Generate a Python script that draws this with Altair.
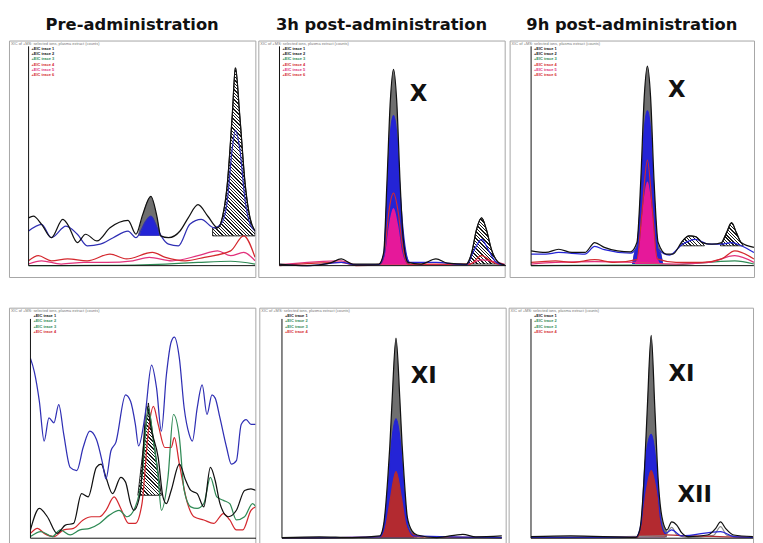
import altair as alt
import pandas as pd

# ---------------- text ----------------
TITLES = ["Pre-administration", "3h post-administration", "9h post-administration"]
HEADER_TEXT = "XIC of +MS: selected ions, plasma extract (counts)"
LEGEND_TOP = ["+EIC trace 1", "+EIC trace 2", "+EIC trace 3", "+EIC trace 4", "+EIC trace 5", "+EIC trace 6"]
LEGEND_BOTTOM = ["+EIC trace 1", "+EIC trace 2", "+EIC trace 3", "+EIC trace 4"]
X_TICKS = [2, 10, 18, 26, 34, 42, 50, 58, 66, 74, 82, 90, 98]
Y_TICKS = [0, 4, 8, 12, 16, 20, 24, 28, 32, 36, 40, 44, 48, 52, 56, 60, 64, 68, 72, 76, 80, 84, 88, 92]

# ---------------- colours ----------------
INK = "#111111"
BLUE_LINE = "#2f2fb4"
BLUE_FILL = "#2424d6"
RED = "#d4282e"
PINK = "#e2327c"
GREEN = "#2f8a55"
GRAY_FILL = "#6f6f6f"
GRAY_LINE = "#8a8a8a"
MAGENTA = "#e6189a"
DARK_RED = "#b32a30"
CLEAR = "rgba(255,255,255,0)"

# ---------------- Pre-administration (top) ----------------
PRE_BLACK = [(0, 20.7), (2.1, 21.4), (5.7, 17.9), (10, 12.1), (15, 20), (17.1, 17.9), (21.4, 10), (25, 13.6),
             (30, 10.7), (35.7, 16.4), (43.6, 19.6), (47.1, 13.6), (50, 22), (53.6, 30), (56.4, 20.7),
             (57.9, 12.9), (61.4, 12.1), (66.4, 15), (70, 20.7), (74.3, 26.4), (78.6, 21.4), (82.9, 16.4),
             (85, 21), (87.1, 35), (89.3, 65), (90.7, 85.7), (92.6, 65), (95, 35), (97.1, 20.7), (99.3, 15)]
PRE_BLUE = [(0, 15), (5.7, 17.9), (10, 12.1), (16.4, 17.1), (21.4, 13.6), (25.7, 8.6), (31.4, 9.3), (37.1, 12.1),
            (43.6, 15), (47.1, 12.1), (51.4, 19.3), (53.6, 21.4), (56.4, 16.4), (58.6, 12.1), (61.4, 9.3),
            (65.7, 8.6), (70.7, 17.9), (75.7, 20), (81.4, 16.4), (85, 19), (87.1, 27.9), (89.3, 50.7),
            (90.7, 58.6), (92.6, 50.7), (95, 27.9), (97.1, 18), (99.3, 15)]
PRE_RED = [(0, 2.1), (4.3, 4.3), (10, 2.1), (17.1, 2.9), (25.7, 2.1), (35.7, 5), (42.9, 2.9), (54.3, 5.7),
           (60, 3.6), (68.6, 2.1), (77.1, 3.6), (88.6, 6.4), (94.3, 12.9), (99.3, 3.6)]
PRE_PINK = [(0, 0.7), (5.7, 2.1), (14.3, 0.7), (24.3, 1.4), (34.3, 1.4), (45.7, 2.1), (52.9, 3.6), (62.9, 2.1),
            (74.3, 4.3), (82.9, 6.4), (88.6, 4.3), (94.3, 5.7), (99.3, 2.1)]
PRE_GREEN = [(0, 0), (31.4, 0.1), (60, 0.7), (74.3, 1.4), (88.6, 1.9), (99.3, 0.7)]
PRE_PEAK_BASE = 12.9
PRE_PEAK_BLACK = [(47.9, 12.9), (50, 22), (53.6, 30), (56.4, 20.7), (57.9, 12.9)]
PRE_PEAK_BLUE = [(48.6, 12.9), (51.4, 19.3), (53.6, 21.4), (56.4, 16.4), (57.5, 12.9)]
PRE_HATCH = [(80.7, 16.4), (82.9, 16.4), (85, 21), (87.1, 35), (89.3, 65), (90.7, 85.7), (92.6, 65), (95, 35),
             (97.1, 20.7), (99.3, 15)]

# ---------------- 3h (top) ----------------
H3_BLACK = [(0, 0.7), (12.1, 0), (22.1, 1.1), (27.1, 2.9), (32.1, 0.7), (43.6, 0.7), (45.7, 5.7), (47.1, 35.7),
            (48.6, 71.4), (50, 85), (51.4, 71.4), (52.9, 35.7), (54.3, 11.4), (56.4, 1.4), (62.1, 0.7),
            (68.6, 2.9), (73.6, 1.1), (82.1, 0.7), (84.3, 5.7), (86.4, 15.7), (88.6, 20.7), (90.7, 15.7),
            (92.9, 7.1), (96.4, 1.1), (99.3, 0.3)]
H3_BLUE = [(0, 0.4), (12.1, 0), (27.1, 1.4), (33.6, 0.3), (43.6, 0.4), (45.7, 4.3), (47.1, 28.6), (48.6, 57.1),
           (50, 65), (51.4, 57.1), (53.1, 28.6), (55, 8.6), (57.1, 1.4), (68.6, 1.4), (82.1, 0.4), (85, 6),
           (88.6, 11.4), (92, 6), (95, 1.5), (99.3, 0)]
H3_RED = [(0, 0), (27.1, 1.4), (33.6, 0), (44.3, 0.7), (46.4, 8.6), (47.9, 22.9), (50, 31.4), (52.1, 22.9),
          (53.9, 8.6), (56.4, 0.7), (68.6, 0.7), (83.6, 0.7), (88.6, 4.3), (93.6, 1.4), (99.3, 0)]
H3_PINK = [(0, 0.4), (27.1, 2.1), (33.6, 0.4), (82.1, 0.4), (88.6, 2.5), (99.3, 0.4)]
H3_FILL_BASE = 0.3
H3_MAGENTA = [(44.3, 0.3), (46.4, 5.7), (47.9, 17.1), (50, 25), (52.1, 17.1), (53.9, 5.7), (56.4, 0.3)]
H3_HATCH_BASE = 0.7
H3_HATCH = [(82.1, 0.7), (84.3, 5.7), (86.4, 15.7), (88.6, 20.7), (90.7, 15.7), (92.9, 7.1), (96.4, 1.1)]
H3_LABELS = [("X", 61, 71.4)]

# ---------------- 9h (top) ----------------
H9_BLACK = [(0, 6.4), (6.4, 5.7), (12.1, 7.1), (17.9, 5.7), (23.6, 5.7), (27.9, 10), (32.1, 7.9), (37.9, 6.4),
            (43.6, 6), (46.4, 10), (48.1, 37.1), (49.6, 72.9), (51, 86.4), (52.4, 72.9), (53.9, 37.1),
            (55.7, 10), (59.3, 5), (62.1, 5), (66.4, 10.7), (69.3, 12.9), (72.1, 12.6), (75, 10), (79.3, 9.3),
            (83.6, 10), (85.7, 14.3), (87.9, 18.6), (90, 14.3), (92.1, 10), (97.7, 7.9)]
H9_BLUE = [(0, 5), (6.4, 5), (12.1, 5.7), (23.6, 5), (27.9, 8.3), (32.1, 6.9), (43.6, 5.4), (46.4, 7.9),
           (48.1, 30), (49.6, 58.6), (51, 67.1), (52.4, 58.6), (53.9, 30), (55.7, 7.1), (60.7, 4.6), (66.4, 9.3),
           (72.1, 11.4), (77.9, 9.3), (83.6, 9.3), (87.9, 10), (92.1, 8.6), (97.7, 5.7)]
H9_RED = [(0, 1.4), (10.7, 2.1), (17.9, 1.4), (27.9, 2.6), (36.4, 1.4), (46.4, 2.6), (48.6, 22.9), (51, 45.7),
          (53.3, 22.9), (55.3, 2.9), (63.6, 1.4), (75, 1.4), (83.6, 2.9), (89.3, 6.4), (97.7, 2.9)]
H9_PINK = [(0, 0.7), (10.7, 1.4), (27.9, 1.7), (46.4, 1.4), (63.6, 0.7), (77.9, 1.4), (89.3, 4.3), (97.7, 1.4)]
H9_GREEN = [(0, 0), (60.7, 0.3), (89.3, 2.1), (97.7, 0.7)]
H9_FILL_BASE = 0.7
H9_FILL_BLACK = [(44.3, 0.7), (45.2, 6), (46.4, 10), (48.1, 37.1), (49.6, 72.9), (51, 86.4), (52.4, 72.9),
                 (53.9, 37.1), (55.7, 10), (57, 6), (57.9, 0.7)]
H9_FILL_BLUE = [(44.3, 0.7), (45.2, 5.5), (46.4, 7.9), (48.1, 30), (49.6, 58.6), (51, 67.1), (52.4, 58.6),
                (53.9, 30), (55.7, 7.1), (57, 5), (57.9, 0.7)]
H9_FILL_MAGENTA = [(45.4, 0.7), (47.4, 8), (48.9, 24), (51, 36.5), (53.1, 24), (54.6, 8), (56.6, 0.7)]
H9_HATCH_BASE = 8.6
H9_HATCH_A = [(65.5, 8.6), (66.4, 10.7), (69.3, 12.9), (72.1, 12.6), (75, 10), (76, 8.6)]
H9_HATCH_B = [(83, 8.6), (83.6, 10), (85.7, 14.3), (87.9, 18.6), (90, 14.3), (92.1, 10), (93, 8.6)]
H9_LABELS = [("X", 63.9, 72.9)]

# ---------------- Pre-administration (bottom) ----------------
PRE2_BLUE = [(0, 77.9), (1.7, 72.1), (3.9, 59.3), (6, 42.1), (8.1, 52.1), (10.3, 50), (12.4, 57.9), (14.6, 45),
             (17.4, 30.7), (20.3, 29.3), (23.1, 39.3), (26, 46.4), (28.9, 42.9), (31.7, 32.1), (33.1, 25.7),
             (35.3, 37.9), (37.4, 41.4), (41.7, 62.1), (43.9, 59.3), (46, 49.3), (47.4, 40), (50.3, 53.6),
             (53.1, 75), (55.3, 65), (57.4, 46.4), (59.6, 70.7), (61.7, 85), (63.1, 87.1), (65.3, 77.9),
             (67.4, 56.4), (69.6, 45), (71, 42.1), (73.1, 56.4), (75.3, 66.4), (77.4, 53.6), (79.6, 62.1),
             (81, 60.7), (83.1, 52.1), (86, 39.3), (88.1, 32.1), (90.3, 33.6), (92.4, 49.3), (94.6, 51.4),
             (96.7, 49.3), (98.9, 49.3)]
PRE2_BLACK = [(0, 3.6), (3.9, 12.9), (7.4, 9.3), (11.7, 2.1), (15.3, 5.7), (18.9, 6.4), (22.4, 19.3), (25.3, 17.9),
              (28.9, 30.7), (31, 32.1), (33.1, 26.4), (36, 19.3), (39.6, 26.4), (41.7, 24.3), (43.9, 15),
              (45.3, 12.1), (48.1, 19.3), (51, 57.1), (53.1, 46.4), (56, 35), (58.1, 17.9), (59.6, 15),
              (61.7, 20.7), (65.3, 32.1), (68.1, 25), (70.3, 20.7), (73.1, 19.3), (76, 13.6), (78.9, 30.7),
              (81, 25), (83.1, 15), (86.7, 9.3), (90.3, 12.1), (93.9, 20.7), (96.7, 21.4), (98.9, 20.7)]
PRE2_GREEN = [(0, 0.7), (4.6, 2.9), (9.6, 0.7), (13.1, 3.6), (17.4, 1.4), (21.7, 3.6), (26, 4.3), (30.3, 6.4),
              (34.6, 10), (38.9, 12.1), (42.4, 9.3), (46, 13.6), (48.9, 26.4), (51.7, 56.4), (53.9, 42.1),
              (56, 26.4), (57.4, 12.1), (60.3, 26.4), (62.7, 53.6), (65.3, 43.6), (67.4, 20.7), (70.3, 13.6),
              (73.1, 12.9), (76, 15), (78.9, 26.4), (81.7, 17.9), (84.6, 16.4), (87.4, 15), (90.3, 7.9),
              (93.9, 9.3), (97.4, 15), (98.9, 13.6)]
PRE2_RED = [(0, 2.1), (3.1, 4.3), (6, 2.1), (10.3, 0.7), (14.6, 3.6), (18.9, 4.3), (23.1, 7.9), (26.7, 9.3),
            (30.3, 9.3), (33.1, 12.1), (36.7, 17.9), (39.6, 12.9), (43.1, 6.4), (46, 6.4), (48.9, 15),
            (51.7, 46.4), (53.9, 57.1), (56, 49.3), (58.9, 39.3), (61.7, 39.3), (63.1, 43.6), (65.3, 32.1),
            (68.9, 15), (71.7, 9.3), (76, 7.9), (80.3, 6.4), (84.6, 10.7), (87.4, 7.9), (90.3, 3.6), (93.1, 3.6),
            (96.7, 12.1), (98.9, 13.6)]
PRE2_HATCH_BASE = 18.6
PRE2_HATCH = [(47.1, 18.6), (51.7, 58.6), (57.4, 18.6)]

# ---------------- 3h (bottom) ----------------
H3B_BLACK = [(0, 0.3), (16.4, 0.6), (30.7, 0.3), (42.9, 1), (44.6, 6), (46.4, 26), (47.3, 40), (48.3, 60),
             (50, 86.7), (51.7, 60), (52.7, 40), (53.6, 26), (55, 8.9), (57.1, 3.1), (59.3, 1.4), (67.9, 0.3),
             (79.3, 1.7), (85, 0.6), (96.4, 1)]
H3B_BLUE = [(0, 0.1), (42.9, 0.6), (44.6, 4.6), (46.4, 20.3), (48.1, 41.7), (50, 51.7), (51.9, 41.7),
            (53.6, 20.3), (55.4, 4.6), (57.9, 1), (96.4, 0.3)]
H3B_RED = [(0, 0.1), (43.6, 0.6), (45.7, 6), (47.6, 17.4), (50, 28.9), (52.4, 17.4), (54.3, 6), (56.4, 2.4),
           (62.1, 0.6), (96.4, 0.3)]
H3B_FILL_BASE = 0.3
H3B_LABELS = [("XI", 62.2, 67.4)]

# ---------------- 9h (bottom) ----------------
H9B_BLACK = [(0, 0.7), (17.4, 1), (46, 0.4), (47.7, 3.6), (49.6, 26.4), (51, 56.4), (52.7, 87.9), (54.3, 56.4),
             (55.7, 26.4), (57.4, 9.3), (59.6, 3.6), (61.7, 7.1), (63.9, 5.7), (66, 2.4), (68.9, 0.7),
             (77.4, 1.4), (81, 4.3), (83.1, 7.1), (85.3, 4.3), (88.9, 1.4), (97.3, 0.7)]
H9B_GRAY = [(0, 0.4), (58.6, 1), (61.7, 4.7), (64, 1.5), (68.9, 0.4), (80, 1.2), (83.1, 5), (86, 1.2), (97.3, 0.4)]
H9B_BLUE = [(0, 0.4), (46, 0.4), (48.3, 6.4), (50, 32.1), (52.7, 45), (54.9, 32.1), (56.7, 9.3), (58.9, 2.1),
            (61.7, 3.6), (66, 1), (83.1, 2.9), (88.9, 0.7), (97.3, 0.4)]
H9B_RED = [(0, 0.3), (46.7, 0.4), (48.6, 6.4), (50.6, 20.7), (52.7, 29.3), (54.9, 20.7), (56.9, 6.4),
           (58.9, 1.4), (97.4, 0.4)]
H9B_FILL_BASE = 0.4
H9B_LABELS = [("XI", 66, 67.9), ("XII", 71.8, 15.6)]


def between(points, lo, hi):
    return [p for p in points if lo <= p[0] <= hi]


PANELS = {
    "pre_top": dict(
        hatches=[(PRE_HATCH, PRE_PEAK_BASE, "monotone")],
        fills=[(PRE_PEAK_BLACK, PRE_PEAK_BASE, GRAY_FILL), (PRE_PEAK_BLUE, PRE_PEAK_BASE, BLUE_FILL)],
        lines=[(PRE_GREEN, GREEN), (PRE_PINK, PINK), (PRE_RED, RED), (PRE_BLUE, BLUE_LINE), (PRE_BLACK, INK)],
        labels=[], legend=list(zip(LEGEND_TOP, [INK, INK, GREEN, RED, PINK, RED]))),
    "h3_top": dict(
        hatches=[(H3_HATCH, H3_HATCH_BASE, "monotone")],
        fills=[(between(H3_BLACK, 43.6, 56.4), H3_FILL_BASE, GRAY_FILL),
               (between(H3_BLUE, 43.6, 57.1), H3_FILL_BASE, BLUE_FILL),
               (H3_MAGENTA, H3_FILL_BASE, MAGENTA)],
        lines=[(H3_PINK, PINK), (H3_RED, RED), (H3_BLUE, BLUE_FILL), (H3_BLACK, INK)],
        labels=H3_LABELS, legend=list(zip(LEGEND_TOP, [INK, INK, GREEN, RED, PINK, RED]))),
    "h9_top": dict(
        hatches=[(H9_HATCH_A, H9_HATCH_BASE, "monotone"), (H9_HATCH_B, H9_HATCH_BASE, "monotone")],
        fills=[(H9_FILL_BLACK, H9_FILL_BASE, GRAY_FILL), (H9_FILL_BLUE, H9_FILL_BASE, BLUE_FILL),
               (H9_FILL_MAGENTA, H9_FILL_BASE, MAGENTA)],
        lines=[(H9_GREEN, GREEN), (H9_PINK, PINK), (H9_RED, RED), (H9_BLUE, BLUE_FILL), (H9_BLACK, INK)],
        labels=H9_LABELS, legend=list(zip(LEGEND_TOP, [INK, INK, GREEN, RED, PINK, RED]))),
    "pre_bottom": dict(
        hatches=[(PRE2_HATCH, PRE2_HATCH_BASE, "linear")],
        fills=[],
        lines=[(PRE2_RED, RED), (PRE2_GREEN, GREEN), (PRE2_BLACK, INK), (PRE2_BLUE, BLUE_LINE)],
        labels=[], legend=list(zip(LEGEND_BOTTOM, [INK, GREEN, GREEN, RED]))),
    "h3_bottom": dict(
        hatches=[],
        fills=[(between(H3B_BLACK, 42.9, 59.3), H3B_FILL_BASE, GRAY_FILL),
               (between(H3B_BLUE, 42.9, 57.9), H3B_FILL_BASE, BLUE_FILL),
               (between(H3B_RED, 43.6, 62.1), H3B_FILL_BASE, DARK_RED)],
        lines=[(H3B_RED, DARK_RED), (H3B_BLUE, BLUE_FILL), (H3B_BLACK, INK)],
        labels=H3B_LABELS, legend=list(zip(LEGEND_BOTTOM, [INK, GREEN, GREEN, RED]))),
    "h9_bottom": dict(
        hatches=[],
        fills=[(between(H9B_BLACK, 46, 59.6), H9B_FILL_BASE, GRAY_FILL),
               (between(H9B_BLUE, 46, 58.9), H9B_FILL_BASE, BLUE_FILL),
               (between(H9B_RED, 46.7, 58.9), H9B_FILL_BASE, DARK_RED)],
        lines=[(H9B_GRAY, GRAY_LINE), (H9B_RED, DARK_RED), (H9B_BLUE, BLUE_FILL), (H9B_BLACK, INK)],
        labels=H9B_LABELS, legend=list(zip(LEGEND_BOTTOM, [INK, GREEN, GREEN, RED]))),
}

PX_X = 2.305  # horizontal pixels per data unit
PX_Y = 2.333  # vertical pixels per data unit


def frame(points, base=None):
    df = pd.DataFrame(points, columns=["x", "y"])
    if base is not None:
        df["b"] = base
    return df


def hatch_fill(points, base, spacing=3.4):
    xs = [p[0] for p in points]
    ys = [p[1] for p in points]
    w = max((max(xs) - min(xs)) * PX_X, 1.0)
    h = max((max(ys) - base) * PX_Y, 1.0)
    r = w / h
    s = (1 + r) / (1 + r * r)
    n = max(3, int(round(h * (1 + r) / spacing)))
    stops = []
    for k in range(n):
        o = k / n
        m = (k + 0.6) / n
        e = min((k + 1) / n, 1.0)
        stops += [alt.GradientStop(color=CLEAR, offset=o), alt.GradientStop(color=CLEAR, offset=m),
                  alt.GradientStop(color="#1a1a1a", offset=m), alt.GradientStop(color="#1a1a1a", offset=e)]
    return alt.LinearGradient(gradient="linear", stops=stops, x1=1, y1=0, x2=1 - s * r, y2=s)


def build(spec, W, H, axis_px, base_px, title=None):
    xs = alt.Scale(domain=[-axis_px / PX_X, (W - axis_px) / PX_X], nice=False, zero=False)
    ys = alt.Scale(domain=[-(H - base_px) / PX_Y, base_px / PX_Y], nice=False, zero=False)
    X = alt.X("x:Q", scale=xs, axis=None)
    Y = alt.Y("y:Q", scale=ys, axis=None)
    layers = []
    for pts, base, interp in spec["hatches"]:
        layers.append(alt.Chart(frame(pts, base)).mark_area(
            interpolate=interp, fill=hatch_fill(pts, base), stroke=INK, strokeWidth=0.9, clip=True
        ).encode(x=X, y=Y, y2=alt.Y2("b")))
    for pts, base, color in spec["fills"]:
        layers.append(alt.Chart(frame(pts, base)).mark_area(
            interpolate="monotone", color=color, opacity=1, clip=True
        ).encode(x=X, y=Y, y2=alt.Y2("b")))
    for pts, color in spec["lines"]:
        layers.append(alt.Chart(frame(pts)).mark_line(
            interpolate="monotone", color=color, strokeWidth=1.25, clip=True
        ).encode(x=X, y=Y))
    x_end = max(p[0] for pts, _ in spec["lines"] for p in pts)
    axis_x = pd.DataFrame({"x": [0], "x2": [x_end], "y": [0]})
    layers.append(alt.Chart(axis_x).mark_rule(color=INK, strokeWidth=1).encode(
        x=alt.X("x:Q", scale=xs, axis=alt.Axis(
            orient="bottom", offset=base_px - H, values=X_TICKS, domain=False, grid=False, tickSize=2.5,
            tickColor=INK, labelFontSize=3.6, labelPadding=1, labelColor="#333", title=None, labelOverlap=False)),
        x2="x2:Q",
        y=alt.Y("y:Q", scale=ys, axis=alt.Axis(
            orient="left", offset=-axis_px, values=Y_TICKS, domain=False, grid=False, tickSize=2,
            tickColor=INK, labelFontSize=3.3, labelPadding=1, labelColor="#333", title=None, labelOverlap=False,
            labelExpr="format(datum.value / 48, '.2f')")),
    ))
    axis_y = pd.DataFrame({"x": [0], "y": [0], "y2": [Y_TICKS[-1] + 3]})
    layers.append(alt.Chart(axis_y).mark_rule(color=INK, strokeWidth=1).encode(
        x=alt.X("x:Q", scale=xs, axis=None), y=alt.Y("y:Q", scale=ys, axis=None), y2="y2:Q"))
    if spec["labels"]:
        layers.append(alt.Chart(pd.DataFrame(spec["labels"], columns=["t", "x", "y"])).mark_text(
            font="DejaVu Sans", fontSize=23, fontWeight="bold", align="center", baseline="alphabetic", color=INK
        ).encode(x=X, y=Y, text="t:N"))
    one = pd.DataFrame({"a": [0]})
    layers.append(alt.Chart(one).mark_text(
        font="Liberation Sans", fontSize=4, align="left", baseline="top", color="#777"
    ).encode(x=alt.value(2), y=alt.value(1.5), text=alt.value(HEADER_TEXT)))
    for i, (t, c) in enumerate(spec["legend"]):
        layers.append(alt.Chart(one).mark_text(
            font="Liberation Sans", fontSize=4, fontWeight="bold", align="left", baseline="top", color=c
        ).encode(x=alt.value(axis_px + 3), y=alt.value(6.5 + i * 5.3), text=alt.value(t)))
    props = dict(width=W, height=H)
    if title:
        props["title"] = alt.TitleParams(text=title, font="DejaVu Sans", fontSize=16.5, fontWeight="bold",
                                         color=INK, anchor="middle", offset=-6, baseline="alphabetic")
    return alt.layer(*layers).properties(**props)


TOP_H, BOTTOM_H = 239, 240
TOP_BASE, BOTTOM_BASE = 227.5, 233
top = alt.hconcat(
    build(PANELS["pre_top"], 249, TOP_H, 19.8, TOP_BASE, TITLES[0]),
    build(PANELS["h3_top"], 249, TOP_H, 21.4, TOP_BASE, TITLES[1]),
    build(PANELS["h9_top"], 247, TOP_H, 21.7, TOP_BASE, TITLES[2]),
    spacing=1,
)
bottom = alt.hconcat(
    build(PANELS["pre_bottom"], 249, BOTTOM_H, 21.7, BOTTOM_BASE),
    build(PANELS["h3_bottom"], 249, BOTTOM_H, 22.9, BOTTOM_BASE),
    build(PANELS["h9_bottom"], 247, BOTTOM_H, 22.6, BOTTOM_BASE),
    spacing=1,
)
chart = alt.vconcat(top, bottom, spacing=29).properties(
    padding={"top": 6, "left": 0, "right": 0, "bottom": 0}, background="white"
).configure_view(stroke="#a6a6a6", strokeWidth=1)

chart.save("out.html", embed_options={"renderer": "svg", "actions": False})
